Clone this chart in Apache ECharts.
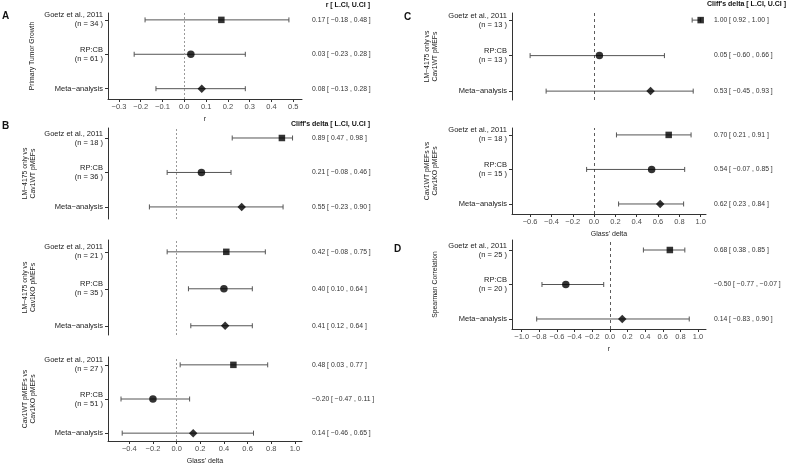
<!DOCTYPE html>
<html><head><meta charset="utf-8">
<script src="https://cdn.jsdelivr.net/npm/echarts@6/dist/echarts.min.js"></script>
<style>html,body{margin:0;padding:0;background:#fff}#c{width:787px;height:466px}</style>
</head><body><div id="c"></div>
<script>
// ---------- data ----------
const studies = ['Goetz et al., 2011', 'RP:CB', 'Meta\u2212analysis'];
const rowPos = [3, 2, 1];

const estA = [0.17, 0.03, 0.08],  lowA = [-0.18, -0.23, -0.13], upA = [0.48, 0.28, 0.28], nA = [34, 61];
const estB1 = [0.89, 0.21, 0.55], lowB1 = [0.47, -0.08, -0.23], upB1 = [0.98, 0.46, 0.90], nB1 = [18, 36];
const estB2 = [0.42, 0.40, 0.41], lowB2 = [-0.08, 0.10, 0.12],  upB2 = [0.75, 0.64, 0.64], nB2 = [21, 35];
const estB3 = [0.48, -0.20, 0.14], lowB3 = [0.03, -0.47, -0.46], upB3 = [0.77, 0.11, 0.65], nB3 = [27, 51];
const estC1 = [1.00, 0.05, 0.53], lowC1 = [0.92, -0.60, -0.45], upC1 = [1.00, 0.66, 0.93], nC1 = [13, 13];
const estC2 = [0.70, 0.54, 0.62], lowC2 = [0.21, -0.07, 0.23],  upC2 = [0.91, 0.85, 0.84], nC2 = [18, 15];
const estD = [0.68, -0.50, 0.14], lowD = [0.38, -0.77, -0.83],  upD = [0.85, -0.07, 0.90], nD = [25, 20];

const ticksA = [-0.3, -0.2, -0.1, 0.0, 0.1, 0.2, 0.3, 0.4, 0.5];
const ticksB = [-0.4, -0.2, 0.0, 0.2, 0.4, 0.6, 0.8, 1.0];
const ticksC = [-0.6, -0.4, -0.2, 0.0, 0.2, 0.4, 0.6, 0.8, 1.0];
const ticksD = [-1.0, -0.8, -0.6, -0.4, -0.2, 0.0, 0.2, 0.4, 0.6, 0.8, 1.0];

const yTitles = {
  A: 'Primary Tumor Growth',
  B1: 'LM\u22124175 only vs\nCav1WT pMEFs',
  B2: 'LM\u22124175 only vs\nCav1KO pMEFs',
  B3: 'Cav1WT pMEFs vs\nCav1KO pMEFs',
  C1: 'LM\u22124175 only vs\nCav1WT pMEFs',
  C2: 'Cav1WT pMEFs vs\nCav1KO pMEFs',
  D: 'Spearman Correlation'
};
const headerR = 'r [ L.CI, U.CI ]';
const headerCliff = 'Cliff\'s delta [ L.CI, U.CI ]';

// ---------- layout ----------
const FONT = "'Liberation Sans', Arial, Helvetica, sans-serif";
const panels = [
  {id:'A',  est:estA,  low:lowA,  up:upA,  n:nA,  ticks:ticksA, xName:'r',            grid:{left:108, top:13,  width:194, height:86}, x:[-0.35, 0.54], y:[0.7, 3.2],  showX:true,  zero:'grey', textX:312, yGap:72},
  {id:'B1', est:estB1, low:lowB1, up:upB1, n:nB1, ticks:ticksB, xName:'',             grid:{left:108, top:128, width:194, height:91}, x:[-0.58, 1.06], y:[0.65, 3.29], showX:false, zero:'grey', textX:312, yGap:71},
  {id:'B2', est:estB2, low:lowB2, up:upB2, n:nB2, ticks:ticksB, xName:'',             grid:{left:108, top:240, width:194, height:95}, x:[-0.58, 1.06], y:[0.75, 3.32], showX:false, zero:'grey', textX:312, yGap:71},
  {id:'B3', est:estB3, low:lowB3, up:upB3, n:nB3, ticks:ticksB, xName:'Glass\' delta', grid:{left:108, top:357, width:194, height:85}, x:[-0.58, 1.06], y:[0.77, 3.23], showX:true,  zero:'grey', textX:312, yGap:71},
  {id:'C1', est:estC1, low:lowC1, up:upC1, n:nC1, ticks:ticksC, xName:'',             grid:{left:512, top:13,  width:194, height:87}, x:[-0.77, 1.05], y:[0.75, 3.2],  showX:false, zero:'dark', textX:714, yGap:73},
  {id:'C2', est:estC2, low:lowC2, up:upC2, n:nC2, ticks:ticksC, xName:'Glass\' delta', grid:{left:512, top:128, width:194, height:86}, x:[-0.77, 1.05], y:[0.71, 3.2],  showX:true,  zero:'dark', textX:714, yGap:73},
  {id:'D',  est:estD,  low:lowD,  up:upD,  n:nD,  ticks:ticksD, xName:'r',            grid:{left:512, top:240, width:194, height:89}, x:[-1.11, 1.09], y:[0.71, 3.29], showX:true,  zero:'dark', textX:714, yGap:73}
];

const fmt = v => (v < 0 ? '\u2212' : '') + Math.abs(v).toFixed(2);
const fmtTick = v => (v < -1e-9 ? '\u2212' : '') + Math.abs(v).toFixed(1);
const symbols = ['rect', 'circle', 'diamond'];
const symSizes = [6.5, 7.5, 8.5];

const grids = [], xAxes = [], yAxes = [], series = [];
panels.forEach((p, gi) => {
  grids.push(Object.assign({containLabel:false}, p.grid));
  xAxes.push({
    type:'value', gridIndex:gi, min:p.x[0], max:p.x[1],
    splitLine:{show:false},
    axisLine:{show:p.showX, onZero:false, lineStyle:{color:'#333', width:1}},
    axisTick:{show:p.showX, length:3, customValues:p.ticks, lineStyle:{color:'#333'}},
    axisLabel:{show:p.showX, customValues:p.ticks, formatter:fmtTick, margin:4, color:'#4d4d4d', fontSize:7.5, fontFamily:FONT},
    name:p.xName, nameLocation:'middle', nameGap:17,
    nameTextStyle:{color:'#222', fontSize:7, fontFamily:FONT}
  });
  yAxes.push({
    type:'value', gridIndex:gi, min:p.y[0], max:p.y[1],
    splitLine:{show:false},
    axisLine:{show:true, onZero:false, lineStyle:{color:'#333', width:1}},
    axisTick:{show:true, length:3, customValues:rowPos, lineStyle:{color:'#333'}},
    axisLabel:{
      customValues:rowPos, margin:5, color:'#222', fontSize:7.5, fontFamily:FONT,
      align:'right', lineHeight:9,
      formatter: v => {
        const i = rowPos.indexOf(Math.round(v));
        if (i < 0) return '';
        return i < 2 ? studies[i] + '\n(n = ' + p.n[i] + ' )' : studies[i];
      }
    },
    name:yTitles[p.id], nameLocation:'middle', nameRotate:90, nameGap:p.yGap,
    nameTextStyle:{color:'#222', fontSize:6.8, fontFamily:FONT, lineHeight:8, align:'center'}
  });
  const rows = p.est.map((e, i) => [e, p.low[i], p.up[i], rowPos[i]]);
  series.push({
    type:'custom', xAxisIndex:gi, yAxisIndex:gi, clip:false, silent:true, z:2,
    data: rows,
    encode:{x:[1,2], y:3},
    renderItem: (params, api) => {
      const e = api.value(0), l = api.value(1), u = api.value(2), y = api.value(3);
      const a = api.coord([l, y]), b = api.coord([u, y]);
      const st = {stroke:'#555', lineWidth:1};
      return {type:'group', children:[
        {type:'line', shape:{x1:a[0], y1:a[1], x2:b[0], y2:b[1]}, style:st},
        {type:'line', shape:{x1:a[0], y1:a[1]-2.5, x2:a[0], y2:a[1]+2.5}, style:st},
        {type:'line', shape:{x1:b[0], y1:b[1]-2.5, x2:b[0], y2:b[1]+2.5}, style:st},
        {type:'text', x:p.textX, y:a[1], style:{text: fmt(e) + ' [ ' + fmt(l) + ' , ' + fmt(u) + ' ]',
          fill:'#333', fontSize:6.8, fontFamily:FONT, align:'left', verticalAlign:'middle'}}
      ]};
    },
    markLine:{
      silent:true, symbol:['none','none'], label:{show:false}, animation:false,
      lineStyle: p.zero === 'grey' ? {color:'#9a9a9a', type:[2,2], width:1} : {color:'#333', type:[3,3], width:0.8},
      data:[{xAxis:0}]
    }
  });
  series.push({
    type:'scatter', xAxisIndex:gi, yAxisIndex:gi, z:3, silent:true,
    itemStyle:{color:'#000'},
    data: p.est.map((e, i) => ({value:[e, rowPos[i]], symbol:symbols[i], symbolSize:symSizes[i]}))
  });
});

const tStyle = (txt, bold, size) => ({text:txt, fill:'#111', font:(bold ? 'bold ' : '') + size + 'px ' + FONT});
const graphic = [
  {type:'text', left:2, top:11, style:tStyle('A', true, 10)},
  {type:'text', left:2, top:121, style:tStyle('B', true, 10)},
  {type:'text', left:404, top:12, style:tStyle('C', true, 10)},
  {type:'text', left:394, top:244, style:tStyle('D', true, 10)},
  {type:'text', right:417, top:2, style:tStyle(headerR, true, 7)},
  {type:'text', right:417, top:121, style:tStyle(headerCliff, true, 7)},
  {type:'text', right:1, top:1, style:tStyle(headerCliff, true, 7)}
];

const chart = echarts.init(document.getElementById('c'), null, {renderer:'canvas'});
chart.setOption({
  animation:false, backgroundColor:'#fff',
  grid:grids, xAxis:xAxes, yAxis:yAxes, series:series, graphic:graphic
});
</script></body></html>
